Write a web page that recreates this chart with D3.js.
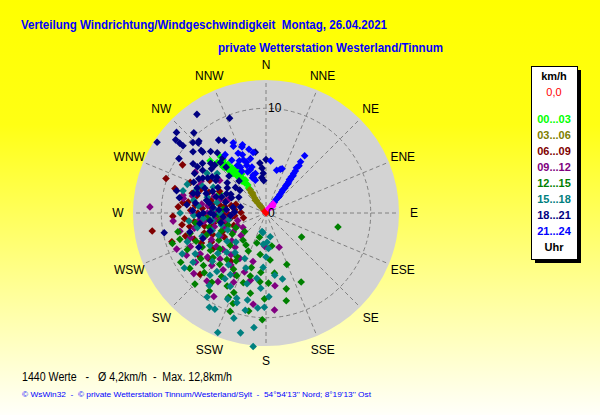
<!DOCTYPE html>
<html>
<head>
<meta charset="utf-8">
<script src="https://cdn.jsdelivr.net/npm/d3@7"></script>
<style>
  html, body { margin: 0; padding: 0; background: #fff; }
  svg { display: block; font-family: 'Liberation Sans', Arial, sans-serif; }
</style>
</head>
<body>
<div id="chart"></div>
<script>
// Windrichtung (Grad) und Geschwindigkeit (km/h), je Zeitabschnitt
const calm = [[0, 0], [320, 0.3]]
const h00 = [[316, 6.7], [313, 7.3], [318, 6.5], [320, 6.1], [321, 6.5], [320, 5.6], [322, 5.9], [319, 5.3], [323, 5.4], [320, 4.9],
  [324, 5.0], [327, 4.9], [325, 4.6], [322, 4.5], [324, 4.2], [326, 4.0], [328, 4.4], [323, 3.8], [325, 3.5], [327, 3.2],
  [325, 2.9], [326, 2.7], [330, 5.2], [318, 5.9], [321, 6.9], [317, 6.0], [293, 4.8], [328, 3.7], [322, 4.8], [319, 5.6]]
const h03 = [[325, 2.7], [324, 2.4], [324, 2.1], [323, 1.8], [322, 1.5], [321, 1.2], [320, 0.9], [322, 0.7], [326, 2.3], [320, 1.6]]
const h06 = [[289, 10.1], [274, 8.4], [261, 11.0], [253, 9.4], [262, 8.1], [227, 8.6], [216, 5.7], [270, 6.5], [275, 5.2], [280, 4.5],
  [266, 4.8], [258, 6.0], [248, 5.5], [284, 6.8], [278, 7.5], [290, 5.8], [295, 4.9], [268, 3.6], [255, 3.9], [245, 6.8],
  [240, 4.6], [282, 3.4], [300, 6.2], [272, 7.2], [263, 6.9], [250, 7.3], [236, 6.1], [287, 4.0], [292, 7.8], [276, 3.0],
  [232, 7.0], [259, 5.1], [285, 9.0], [300, 9.2], [280, 5.2],
  [265, 3.0], [270, 4.0], [262, 4.4], [256, 5.3], [252, 6.2], [268, 5.8], [274, 6.1], [279, 4.0], [283, 5.4], [260, 7.4],
  [266, 7.8], [247, 4.5], [242, 5.9], [238, 7.6], [271, 2.4], [258, 2.2], [285, 7.3], [277, 8.0], [290, 6.6], [254, 8.0],
  [262, 3.4], [268, 8.9], [249, 3.3], [276, 6.8], [286, 3.0]]
const h09 = [[273, 11.1], [265, 8.9], [238, 7.4], [217, 6.8], [221, 8.6], [193, 6.6], [173, 7.0], [159, 3.5], [270, 5.6], [262, 5.0],
  [250, 4.2], [244, 5.8], [230, 5.4], [225, 6.2], [210, 5.0], [205, 7.3], [258, 7.0], [278, 6.2], [285, 4.6], [290, 3.8],
  [268, 3.2], [255, 2.8], [240, 3.6], [235, 8.2], [215, 8.0], [200, 6.0], [222, 4.4], [246, 7.9], [280, 8.0], [296, 6.9],
  [300, 7.8], [305, 5.4], [248, 9.2], [212, 9.4], [230, 9.0], [195, 4.8], [188, 8.8], [175, 9.3], [182, 3.2], [264, 6.4],
  [282, 8.1], [292, 6.9],
  [260, 3.9], [266, 4.6], [272, 4.8], [255, 5.1], [249, 6.3], [243, 4.9], [236, 5.7], [231, 4.2], [226, 7.2], [252, 7.6],
  [262, 6.0], [270, 7.0], [277, 5.6], [283, 7.2], [246, 3.0], [238, 2.6], [228, 3.2], [220, 5.2], [214, 6.0], [207, 6.6],
  [233, 7.0], [242, 8.6], [258, 8.4], [274, 3.8], [288, 5.2]]
const h12 = [[101, 7.0], [124, 4.1], [158, 5.3], [153, 7.4], [165, 7.5], [167, 8.6], [181, 8.2], [204, 8.8], [225, 9.6], [200, 9.2],
  [191, 7.8], [175, 4.5], [185, 6.6], [178, 6.7], [197, 3.0], [210, 6.2], [215, 7.4], [220, 5.8], [230, 6.6], [240, 5.2],
  [250, 6.0], [260, 4.5], [195, 5.4], [188, 4.0], [205, 4.0], [235, 7.6], [245, 8.3], [228, 4.6], [190, 9.5], [182, 10.2],
  [208, 7.9], [218, 8.4], [172, 5.8], [170, 3.2], [195, 2.4], [265, 5.6], [275, 4.1], [255, 7.5], [238, 3.8], [200, 10.0],
  [185, 5.7], [212, 5.4], [252, 9.4], [253, 8.6],
  [232, 5.6], [236, 6.4], [242, 6.9], [248, 7.2], [222, 6.6], [214, 5.0], [226, 8.2], [234, 9.0], [240, 9.4], [248, 4.6],
  [256, 5.6], [262, 6.8], [220, 3.4], [212, 3.6], [205, 6.6], [198, 7.0], [230, 7.8], [244, 3.2], [268, 4.6], [258, 8.6],
  [202, 8.2], [194, 6.2], [216, 9.2], [229, 2.7], [252, 3.8]]
const h15 = [[185.5, 12.8], [192, 11.7], [202, 12.3], [197, 10.5], [211, 10.5], [186, 11.0], [181, 9.0], [185, 9.1], [166, 6.5], [236, 8.4],
  [192, 8.5], [192, 9.5], [199, 8.6], [218, 8.8], [192, 1.8], [170, 2.3], [176, 3.4], [180, 4.2], [183, 5.2], [188, 6.3],
  [200, 5.6], [210, 6.8], [220, 7.3], [230, 6.0], [245, 5.0], [255, 4.4], [265, 6.0], [275, 5.0], [280, 7.0], [290, 8.0],
  [285, 5.8], [250, 6.5], [240, 7.8], [225, 5.3], [205, 4.8], [195, 7.0], [178, 8.0], [172, 6.0], [185, 3.0], [215, 9.8],
  [208, 10.4], [260, 3.6], [293, 6.6], [270, 8.2], [178, 2.8], [184, 7.2], [285, 8.2], [304, 6.8], [309, 6.0], [189, 1.9],
  [240, 6.2], [246, 4.0], [252, 5.4], [258, 6.7], [264, 7.4], [270, 4.4], [276, 6.5], [282, 4.8], [234, 4.6], [228, 6.9],
  [222, 8.0], [216, 6.1], [206, 7.8], [198, 9.0], [262, 5.2], [268, 6.9], [288, 7.0], [296, 5.6], [250, 8.0], [244, 8.9],
  [236, 9.4], [212, 7.4], [226, 4.0], [218, 4.8], [204, 9.0]]
const h18 = [[325, 11.5], [339, 9.7], [303, 12.4], [312, 11.5], [309, 11.1], [309, 10.6], [309, 10.2], [314, 9.7], [317, 9.4], [316, 9.3],
  [318, 10.3], [327, 8.3], [330, 8.0], [310, 9.1], [314, 8.6], [314, 8.4], [318, 7.9], [321, 7.4], [302, 9.8], [304, 8.4],
  [308, 7.7], [312, 7.1], [304, 7.9], [299, 7.8], [304, 7.3], [309, 6.7], [313, 6.7], [318, 6.5], [322, 6.7], [319, 5.8],
  [299, 6.9], [304, 6.2], [303, 5.7], [293, 7.5], [284, 8.8], [285, 7.2], [292, 6.3], [298, 5.2], [308, 4.7], [310, 3.8],
  [311, 3.3], [355, 4.3], [356, 3.8], [353, 3.4], [353, 4.8], [356, 3.1], [350, 5.9], [0, 5.1], [340, 3.6], [272, 7.0],
  [270, 6.0], [276, 5.1], [265, 4.1], [283, 2.5], [261, 6.4], [259, 9.9], [243, 7.2], [290, 4.5], [280, 5.5], [275, 3.8],
  [288, 6.0], [296, 4.2], [300, 3.0], [268, 5.0], [285, 4.0], [320, 4.0], [315, 5.0],
  [262, 5.4], [268, 6.4], [274, 4.5], [278, 6.8], [282, 5.8], [286, 6.8], [288, 5.0], [292, 5.5], [294, 3.6], [280, 3.2],
  [272, 3.0], [266, 3.4], [258, 4.4], [252, 5.6], [248, 6.5], [256, 7.5], [297, 7.2], [301, 6.5], [306, 5.8], [280, 8.4],
  [276, 7.6], [290, 7.0], [270, 5.3], [298, 3.8], [303, 4.4]]
const h21 = [[38, 1.0], [38, 1.3], [37, 1.6], [38, 1.9], [37, 2.2], [37, 2.5], [36, 2.7], [37, 3.0], [36, 3.2], [37, 3.5],
  [36, 3.7], [36, 4.0], [35, 4.2], [36, 4.4], [35, 4.6], [35, 4.9], [34, 5.2], [35, 5.5], [34, 5.9], [34, 6.6],
  [18, 4.4], [20, 4.5], [38, 2.0], [36, 3.4], [35, 3.9],
  [338, 4.9], [340, 4.4], [341, 3.8], [337, 5.5], [331, 5.0], [342, 3.3], [334, 7.1], [348, 5.9], [335, 7.4], [345, 6.3],
  [336, 4.3], [339, 5.2], [343, 4.6], [333, 5.6], [330, 4.6], [327, 6.0], [14, 4.2], [5, 5.0], [335, 6.3], [338, 6.0],
  [344, 5.4], [340, 6.7], [329, 5.3], [325, 6.8], [345, 3.9], [339, 3.6], [341, 6.9]]
const h24 = [[35, 0.6], [40, 0.8], [45, 0.9], [30, 0.5], [38, 1.1]]

const series = [
  { data: calm, color: '#ff0000' },
  { data: h00, color: '#00ff00' },
  { data: h03, color: '#808000' },
  { data: h06, color: '#800000' },
  { data: h09, color: '#800080' },
  { data: h12, color: '#008000' },
  { data: h15, color: '#008080' },
  { data: h18, color: '#000080' },
  { data: h21, color: '#0000ff' },
  { data: h24, color: '#ff00ff' }
]

const directions = ['N', 'NNE', 'NE', 'ENE', 'E', 'ESE', 'SE', 'SSE', 'S', 'SSW', 'SW', 'WSW', 'W', 'WNW', 'NW', 'NNW']
const rings = [10]
const legendLabels = ['00...03', '03...06', '06...09', '09...12', '12...15', '15...18', '18...21', '21...24']
const legendColors = ['#00ff00', '#808000', '#800000', '#800080', '#008000', '#008080', '#000080', '#0000ff']

const width = 600
const height = 415
const cx = 266
const cy = 213
const outer = 133

const svg = d3.select('#chart').append('svg').attr('width', width).attr('height', height)

const grad = svg.append('defs').append('linearGradient')
  .attr('id', 'bg').attr('x1', 0).attr('y1', 0).attr('x2', 0).attr('y2', 1)
grad.append('stop').attr('offset', '0%').attr('stop-color', '#ffff00')
grad.append('stop').attr('offset', '30%').attr('stop-color', '#ffff14')
grad.append('stop').attr('offset', '100%').attr('stop-color', '#fffffa')

svg.append('rect').attr('width', width).attr('height', height).attr('fill', 'url(#bg)')

// Titel
svg.append('text')
  .attr('x', 21).attr('y', 29)
  .attr('xml:space', 'preserve')
  .attr('textLength', 366).attr('lengthAdjust', 'spacingAndGlyphs')
  .style('font-size', '13px').style('font-weight', 'bold').style('fill', '#0000ff')
  .text('Verteilung Windrichtung/Windgeschwindigkeit  Montag, 26.04.2021')
svg.append('text')
  .attr('x', 218).attr('y', 52)
  .attr('textLength', 225).attr('lengthAdjust', 'spacingAndGlyphs')
  .style('font-size', '13px').style('font-weight', 'bold').style('fill', '#0000ff')
  .text('private Wetterstation Westerland/Tinnum')

const r = d3.scaleLinear().domain([0, 12.7]).range([0, outer])
const angle = d3.scaleLinear().domain([0, 360]).range([0, 2 * Math.PI])
const px = (d) => cx + r(d[1]) * Math.sin(angle(d[0]))
const py = (d) => cy - r(d[1]) * Math.cos(angle(d[0]))

const polar = svg.append('g')
polar.append('circle').attr('cx', cx).attr('cy', cy).attr('r', outer).attr('fill', '#d3d3d3')

polar.selectAll('.spoke').data(directions).enter().append('line')
  .attr('class', 'spoke')
  .attr('x1', cx).attr('y1', cy)
  .attr('x2', (d, i) => px([i * 22.5, r.domain()[1]]))
  .attr('y2', (d, i) => py([i * 22.5, r.domain()[1]]))
  .attr('stroke', '#808080').attr('stroke-dasharray', '4,3')

polar.selectAll('.ring').data(rings).enter().append('circle')
  .attr('class', 'ring')
  .attr('cx', cx).attr('cy', cy).attr('r', (d) => r(d))
  .attr('fill', 'none').attr('stroke', '#808080').attr('stroke-dasharray', '4,3')

polar.selectAll('.dir-label').data(directions).enter().append('text')
  .attr('x', (d, i) => cx + 148 * Math.sin(angle(i * 22.5)))
  .attr('y', (d, i) => cy - 148 * Math.cos(angle(i * 22.5)))
  .attr('text-anchor', 'middle').attr('dy', '0.35em')
  .style('font-size', '12px').style('fill', '#000')
  .text((d) => d)

const diamond = 'M0,-3.8L3.8,0L0,3.8L-3.8,0Z'
series.forEach((s) => {
  polar.append('g').selectAll('path').data(s.data).enter().append('path')
    .attr('d', diamond)
    .attr('transform', (d) => `translate(${px(d)},${py(d)})`)
    .attr('fill', s.color)
})

polar.selectAll('.ring-label').data([0].concat(rings)).enter().append('text')
  .attr('x', cx + 2).attr('y', (d) => cy - r(d))
  .attr('dy', '0.35em')
  .style('font-size', '12px').style('fill', '#000')
  .text((d) => d)

// Legende
const legend = svg.append('g').attr('transform', 'translate(531,66)')
legend.append('rect').attr('x', 4).attr('y', 4).attr('width', 46).attr('height', 193).attr('fill', '#000')
legend.append('rect').attr('x', 0.5).attr('y', 0.5).attr('width', 46).attr('height', 193)
  .attr('fill', '#fff').attr('stroke', '#000')
legend.append('text').attr('x', 23).attr('y', 14).attr('text-anchor', 'middle')
  .style('font-size', '11px').style('font-weight', 'bold').text('km/h')
legend.append('text').attr('x', 23).attr('y', 30).attr('text-anchor', 'middle')
  .style('font-size', '11px').style('fill', '#ff0000').text('0,0')
legend.selectAll('.leg').data(legendLabels).enter().append('text')
  .attr('x', 23).attr('y', (d, i) => 57 + i * 16).attr('text-anchor', 'middle')
  .style('font-size', '11px').style('font-weight', 'bold')
  .style('fill', (d, i) => legendColors[i])
  .text((d) => d)
legend.append('text').attr('x', 23).attr('y', 185).attr('text-anchor', 'middle')
  .style('font-size', '11px').style('font-weight', 'bold').text('Uhr')

// Fusszeilen
svg.append('text').attr('x', 22).attr('y', 381)
  .attr('xml:space', 'preserve')
  .attr('textLength', 210).attr('lengthAdjust', 'spacingAndGlyphs')
  .style('font-size', '12px').style('fill', '#000')
  .text('1440 Werte   -   Ø 4,2km/h  -  Max. 12,8km/h')
svg.append('text').attr('x', 22).attr('y', 397)
  .attr('xml:space', 'preserve')
  .attr('textLength', 349).attr('lengthAdjust', 'spacingAndGlyphs')
  .style('font-size', '8px').style('fill', '#0000ff')
  .text("© WsWin32  -  © private Wetterstation Tinnum/Westerland/Sylt  -  54°54'13'' Nord; 8°19'13'' Ost")
</script>
</body>
</html>
